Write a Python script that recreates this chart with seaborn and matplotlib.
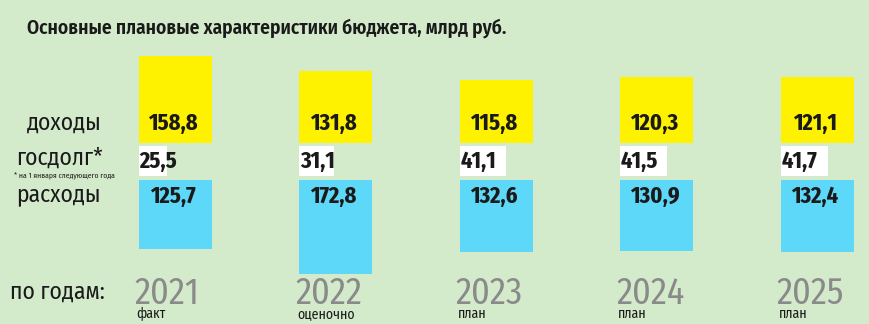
import matplotlib
matplotlib.use("Agg")
import matplotlib.pyplot as plt
import seaborn as sns
import pandas as pd

years = ["2021", "2022", "2023", "2024", "2025"]
status = ["факт", "оценочно", "план", "план", "план"]
income = [158.8, 131.8, 115.8, 120.3, 121.1]
debt = [25.5, 31.1, 41.1, 41.5, 41.7]
expenses = [125.7, 172.8, 132.6, 130.9, 132.4]
income_lbl = ["158,8", "131,8", "115,8", "120,3", "121,1"]
debt_lbl = ["25,5", "31,1", "41,1", "41,5", "41,7"]
exp_lbl = ["125,7", "172,8", "132,6", "130,9", "132,4"]

BG = "#d4ebcb"
YEL = "#fff200"
CYAN = "#5dd8f8"
DARK = "#1a1a1a"
COND = ["Fira Sans Condensed", "DejaVu Sans"]
XCOND = ["Fira Sans Extra Condensed", "Fira Sans Condensed", "DejaVu Sans"]

sns.set_theme(style="white")
plt.rcParams["font.family"] = COND

W, H = 869, 324
fig = plt.figure(figsize=(W / 100, H / 100), dpi=100, facecolor=BG)


def fax(l, t, w, h):
    a = fig.add_axes([l / W, 1 - (t + h) / H, w / W, h / H])
    a.set_facecolor("none")
    a.set_axis_off()
    return a


PXU = 0.545      # px per unit (vertical bars)
PXD = 1.13       # px per unit (debt bars)
C0, STEP, BW = 175, 160.5, 73
xl = (-C0 / STEP, 4 + (W - (C0 + 4 * STEP)) / STEP)

df = pd.DataFrame({"year": years, "income": income, "expenses": expenses})
VAL = dict(fontsize=17.5, fontweight="bold", color=DARK, family=XCOND)

ax_top = fax(0, 40, W, 103)
sns.barplot(data=df, x="year", y="income", ax=ax_top, color=YEL,
            saturation=1, width=BW / STEP, order=years, linewidth=0)
ax_top.set_xlim(*xl)
ax_top.set_ylim(0, 103 / PXU)
ax_top.set_axis_off()
for i, t in enumerate(income_lbl):
    ax_top.annotate(t, xy=(i, 0), xytext=(-2, 8), textcoords="offset pixels",
                    ha="center", va="bottom", **VAL)

ax_bot = fax(0, 180, W, 110)
sns.barplot(data=df, x="year", y="expenses", ax=ax_bot, color=CYAN,
            saturation=1, width=BW / STEP, order=years, linewidth=0)
ax_bot.set_xlim(*xl)
ax_bot.set_ylim(110 / PXU, 0)
ax_bot.set_axis_off()
for i, t in enumerate(exp_lbl):
    ax_bot.annotate(t, xy=(i, 0), xytext=(-2, -16), textcoords="offset pixels",
                    ha="center", va="center", **VAL)

for i in range(len(years)):
    left = C0 + i * STEP - BW / 2
    axd = fax(left, 146, BW, 30)
    sns.barplot(x=[debt[i]], y=[years[i]], orient="h", ax=axd, color="white",
                saturation=1, width=1, linewidth=0)
    axd.set_xlim(0, BW / PXD)
    axd.set_axis_off()
    axd.annotate(debt_lbl[i], xy=(0, 0), xytext=(1, 0), textcoords="offset pixels",
                 ha="left", va="center", **VAL)
    fig.text((left - 4) / W, 1 - 304 / H, years[i], ha="left", va="baseline",
             fontsize=26, fontweight="normal", color="#8a8a8a", family=COND)
    fig.text((left - 2) / W, 1 - 318 / H, status[i], ha="left", va="baseline",
             fontsize=10, color=DARK, family=COND)


def ftext(x, y, s, **kw):
    fig.text(x / W, 1 - y / H, s, **kw)


ftext(27, 28, "Основные плановые характеристики бюджета, млрд руб.",
      ha="left", va="center", fontsize=14, fontweight="semibold", color=DARK, family=COND)
ftext(27, 123, "доходы", ha="left", va="center", fontsize=17, color=DARK, family=COND)
ftext(16, 158, "госдолг*", ha="left", va="center", fontsize=17, color=DARK, family=COND)
ftext(14, 175, "* на 1 января следующего года", ha="left", va="center",
      fontsize=5.5, color=DARK, family=COND)
ftext(16, 194, "расходы", ha="left", va="center", fontsize=17, color=DARK, family=COND)
ftext(10, 292, "по годам:", ha="left", va="center", fontsize=17, color=DARK, family=COND)

fig.savefig("out.png", dpi=100, facecolor=BG)
